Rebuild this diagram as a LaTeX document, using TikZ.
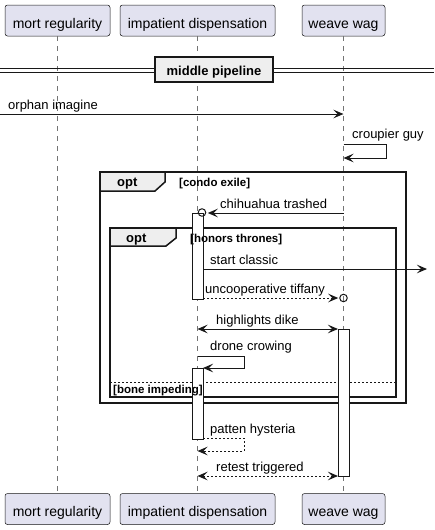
\documentclass[tikz,border=0pt]{standalone}
\usepackage{fontspec}
\setmainfont{Liberation Sans}
\usetikzlibrary{arrows.meta}
\definecolor{ln}{HTML}{181818}
\definecolor{pfill}{HTML}{E2E2F0}
\definecolor{gfill}{HTML}{EEEEEE}
\tikzset{
  participant/.style={draw=ln, line width=0.5pt, fill=pfill, rounded corners=2.5pt, inner sep=0pt,
    minimum height=31pt, text height=18pt, text depth=3pt, font=\fontsize{14}{16}\selectfont},
  lifeline/.style={draw=ln!60!white, line width=0.6pt, dash pattern=on 5pt off 5pt},
  tipA/.tip={Stealth[length=10pt,width=8.5pt,inset=4pt]},
  msg/.style={draw=ln, line width=1pt, -tipA},
  dmsg/.style={msg, dash pattern=on 2pt off 2pt},
  bimsg/.style={draw=ln, line width=1pt, tipA-tipA},
  dbimsg/.style={bimsg, dash pattern=on 2pt off 2pt},
  lbl/.style={anchor=base west, inner sep=0pt, font=\fontsize{13}{15}\selectfont, text=black},
  frame/.style={draw=ln, line width=1.5pt},
  tabshape/.style={draw=ln, line width=1.5pt, fill=gfill},
  glbl/.style={anchor=base west, inner sep=0pt, font=\bfseries\fontsize{11.5}{13}\selectfont, text=black},
  optlbl/.style={anchor=base west, inner sep=0pt, font=\bfseries\fontsize{13}{15}\selectfont, text=black},
  actfill/.style={fill=white},
  actline/.style={draw=ln, line width=1pt},
  endcirc/.style={circle, draw=ln, line width=1pt, minimum size=7.5pt, inner sep=0pt},
  divbox/.style={draw=ln, line width=1.5pt, fill=gfill, inner sep=0pt, minimum width=118pt,
    minimum height=25pt, text height=14pt, text depth=3pt, font=\bfseries\fontsize{13}{15}\selectfont}
}
\begin{document}
\begin{tikzpicture}[x=1pt,y=-1pt]
\useasboundingbox (0,0) rectangle (434,530);
\fill[white] (0,0) rectangle (434,530);

% participants
\node[participant, minimum width=105pt] (p1t) at (57.5,20.5) {mort regularity};
\node[participant, minimum width=155pt] (p2t) at (197.5,20.5) {impatient dispensation};
\node[participant, minimum width=83pt] (p3t) at (343.5,20.5) {weave wag};
\node[participant, minimum width=105pt] (p1b) at (57.5,509) {mort regularity};
\node[participant, minimum width=155pt] (p2b) at (197.5,509) {impatient dispensation};
\node[participant, minimum width=83pt] (p3b) at (343.5,509) {weave wag};

% lifelines
\draw[lifeline] (p1t) -- (p1b);
\draw[lifeline] (p2t) -- (p2b);
\draw[lifeline] (p3t) -- (p3b);

% divider
\draw[ln, line width=1pt] (0,68) -- (434,68);
\draw[ln, line width=1pt] (0,72) -- (434,72);
\node[divbox] (div) at (214,69.5) {middle pipeline};

% orphan imagine
\coordinate (m1s) at (0,114);
\coordinate (m1e) at (343.5,114);
\draw[msg] (m1s) -- (m1e);
\node[lbl] (t1) at (8,109) {orphan imagine};

% croupier guy
\coordinate (m2s) at (343.5,144);
\coordinate (m2a) at (386,144);
\coordinate (m2b) at (386,158);
\coordinate (m2e) at (343.5,158);
\draw[msg] (m2s) -- (m2a) -- (m2b) -- (m2e);
\node[lbl] (t2) at (352,138) {croupier guy};

% group frames
\draw[frame] (100,172) rectangle (406,403);
\draw[tabshape] (100,172) -- (165,172) -- (165,182) -- (155,191) -- (100,191) -- cycle;
\draw[frame] (110,228) rectangle (396,397);
\draw[tabshape] (110,228) -- (176,228) -- (176,238) -- (166,246) -- (110,246) -- cycle;
\draw[ln, line width=1pt, dash pattern=on 2pt off 2pt] (110,382) -- (396,382);

% activation fills
\fill[actfill] (192,213) rectangle (203,299);
\fill[actfill] (192,368) rectangle (203,439);
\fill[actfill] (338,329) rectangle (349,476);

% group labels
\node[optlbl] (g1) at (117,186) {opt};
\node[glbl] (g1c) at (179,186) {[condo exile]};
\node[optlbl] (g2) at (126,242) {opt};
\node[glbl] (g2c) at (190,242) {[honors thrones]};
\node[glbl] (g3c) at (113,393) {[bone impeding]};

% activation outlines
\draw[actline] (192,213) rectangle (203,299);
\draw[actline] (192,368) rectangle (203,439);
\draw[actline] (338,329) rectangle (349,476);

% chihuahua trashed
\coordinate (m3s) at (343.5,213);
\node[endcirc] (c3) at (202,212.5) {};
\draw[msg] (m3s) -- ([xshift=1.5pt]c3.east |- m3s);
\node[lbl] (t3) at (220,208.5) {chihuahua trashed};

% start classic
\coordinate (m4s) at (203,269);
\coordinate (m4e) at (427,269);
\draw[msg] (m4s) -- (m4e);
\node[lbl] (t4) at (210,264.5) {start classic};

% uncooperative tiffany
\coordinate (m5s) at (203,298);
\node[endcirc] (c5) at (343.5,298) {};
\draw[dmsg] (m5s) -- ([xshift=-1pt]c5.west);
\node[lbl] (t5) at (205,293.5) {uncooperative tiffany};

% highlights dike
\coordinate (m6s) at (197.5,329);
\coordinate (m6e) at (338,329);
\draw[bimsg] (m6s) -- (m6e);
\node[lbl] (t6) at (216,324.5) {highlights dike};

% drone crowing
\coordinate (m7s) at (197.5,356);
\coordinate (m7a) at (244,356);
\coordinate (m7b) at (244,368);
\coordinate (m7e) at (203,368);
\draw[msg] (m7s) -- (m7a) -- (m7b) -- (m7e);
\node[lbl] (t7) at (210,350) {drone crowing};

% patten hysteria
\coordinate (m8s) at (203,438);
\coordinate (m8a) at (244,438);
\coordinate (m8b) at (244,451);
\coordinate (m8e) at (197.5,451);
\draw[dmsg] (m8s) -- (m8a) -- (m8b) -- (m8e);
\node[lbl] (t8) at (210,433) {patten hysteria};

% retest triggered
\coordinate (m9s) at (197.5,476);
\coordinate (m9e) at (338,476);
\draw[dbimsg] (m9s) -- (m9e);
\node[lbl] (t9) at (216,471.5) {retest triggered};
\end{tikzpicture}
\end{document}
